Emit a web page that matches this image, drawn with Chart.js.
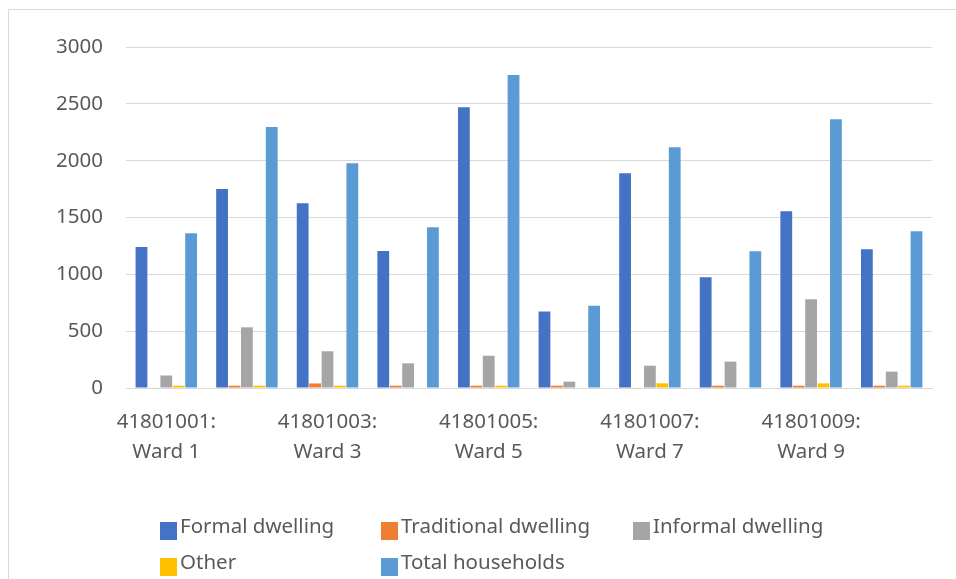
<!DOCTYPE html>
<html>
<head>
<meta charset="utf-8">
<script src="https://cdn.jsdelivr.net/npm/chart.js@4.4.1/dist/chart.umd.min.js"></script>
<style>
  html, body { margin: 0; padding: 0; background: #ffffff; }
  body { width: 956px; height: 579px; position: relative; overflow: hidden; }
  #frame { position: absolute; left: 8px; top: 9px; width: 980px; height: 600px;
           border: 1px solid #d9d9d9; box-sizing: border-box; }
  #wrap { position: absolute; left: 0; top: 0; width: 956px; height: 579px; }
  #legend { position: absolute; left: 0; top: 0; width: 956px; height: 579px; pointer-events: none;
            font-family: "Noto Sans", "Open Sans", sans-serif; font-size: 20.5px; color: #595959; }
  .item { position: absolute; height: 28px; line-height: 28px; white-space: nowrap; }
  .swatch { position: absolute; left: 0; top: 11px; width: 17px; height: 18px; }
  .label { position: absolute; left: 20px; top: 0; }
</style>
</head>
<body>
<div id="frame"></div>
<div id="wrap"><canvas id="chart"></canvas></div>
<div id="legend"></div>
<script>
// Ward codes and names for the ten wards
const wardCodes = ["41801001:", "41801002:", "41801003:", "41801004:", "41801005:",
                   "41801006:", "41801007:", "41801008:", "41801009:", "41801010:"];
const wardNames = ["Ward 1", "Ward 2", "Ward 3", "Ward 4", "Ward 5",
                   "Ward 6", "Ward 7", "Ward 8", "Ward 9", "Ward 10"];

// Households by dwelling type per ward
const formalDwelling      = [1240, 1750, 1625, 1205, 2470,  672, 1890,  975, 1555, 1220];
const traditionalDwelling = [   5,   20,   40,   20,   20,   20,    5,   20,   20,   20];
const informalDwelling    = [ 110,  534,  323,  217,  284,   56,  196,  232,  780,  144];
const otherDwelling       = [  20,   20,   20,    0,   20,    0,   41,    0,   41,   20];
const totalHouseholds     = [1361, 2297, 1977, 1414, 2754,  724, 2118, 1203, 2364, 1379];

// Value axis ticks
const yTicks = [0, 500, 1000, 1500, 2000, 2500, 3000];

const labels = wardCodes.map((c, i) => [c, wardNames[i]]);

const seriesDefs = [
  { label: "Formal dwelling",      data: formalDwelling,      color: "#4472C4" },
  { label: "Traditional dwelling", data: traditionalDwelling, color: "#ED7D31" },
  { label: "Informal dwelling",    data: informalDwelling,    color: "#A5A5A5" },
  { label: "Other",                data: otherDwelling,       color: "#FFC000" },
  { label: "Total households",     data: totalHouseholds,     color: "#5B9BD5" }
];

const FONT = "'Noto Sans', 'Open Sans', sans-serif";
const TEXT = "#595959";

const chart = new Chart(document.getElementById("chart"), {
  type: "bar",
  data: {
    labels: labels,
    datasets: seriesDefs.map(s => ({
      label: s.label,
      data: s.data,
      backgroundColor: s.color,
      borderWidth: 0,
      categoryPercentage: 0.77,
      barPercentage: 0.95
    }))
  },
  options: {
    responsive: true,
    maintainAspectRatio: false,
    animation: false,
    layout: { padding: { top: 47, right: 24, left: 0, bottom: 0 } },
    plugins: { legend: { display: false }, tooltip: { enabled: false } },
    scales: {
      x: {
        grid: { display: false, drawTicks: false },
        border: { display: true, color: "#d9d9d9", width: 1 },
        ticks: {
          autoSkip: false,
          maxRotation: 0,
          minRotation: 0,
          padding: 20,
          color: TEXT,
          font: { family: FONT, size: 20.5, lineHeight: 1.42 },
          callback: function (value, index) {
            return index % 2 === 0 ? this.getLabelForValue(value) : "";
          }
        },
        afterFit: s => { s.height = 579 - 388; }
      },
      y: {
        min: 0,
        max: 3000,
        afterBuildTicks: s => { s.ticks = yTicks.map(v => ({ value: v })); },
        grid: { color: "#d9d9d9", lineWidth: 1, drawTicks: false },
        border: { display: false },
        ticks: {
          padding: 23,
          color: TEXT,
          font: { family: FONT, size: 20.5 },
          callback: v => String(v)
        },
        afterFit: s => { s.width = 126; }
      }
    }
  }
});

// Legend laid out in three columns, built from the chart's datasets
const legendCols = [160, 381, 633];
const legendRows = [511, 547];
const legendEl = document.getElementById("legend");
chart.data.datasets.forEach((ds, i) => {
  const item = document.createElement("div");
  item.className = "item";
  item.style.left = legendCols[i % 3] + "px";
  item.style.top = legendRows[Math.floor(i / 3)] + "px";
  const sw = document.createElement("span");
  sw.className = "swatch";
  sw.style.background = ds.backgroundColor;
  const tx = document.createElement("span");
  tx.className = "label";
  tx.textContent = ds.label;
  item.appendChild(sw);
  item.appendChild(tx);
  legendEl.appendChild(item);
});
</script>
</body>
</html>
